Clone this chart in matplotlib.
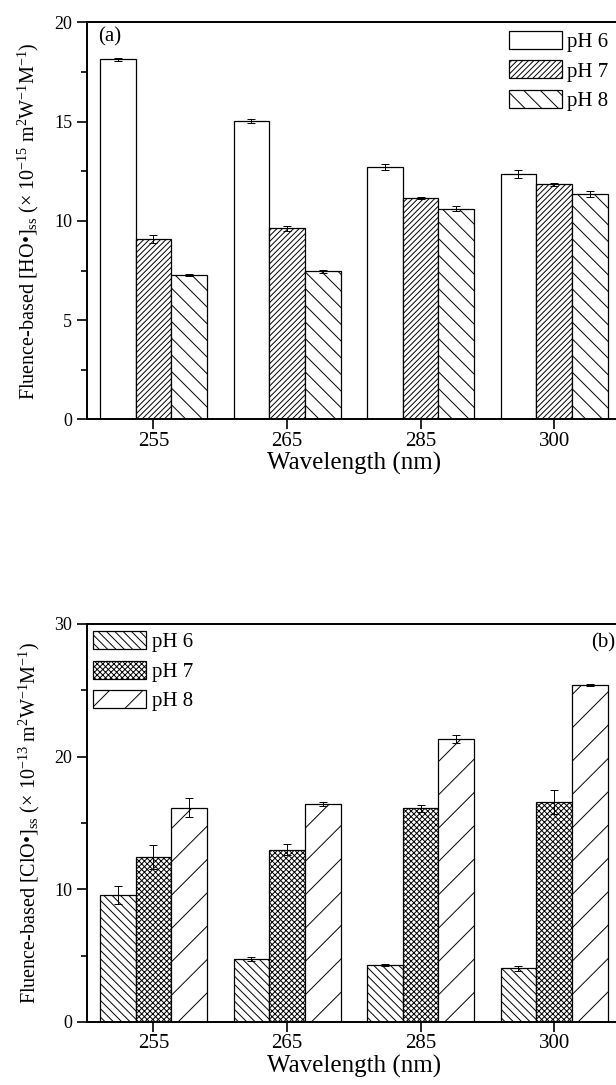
import numpy as np
import matplotlib
matplotlib.use("Agg")
import matplotlib.pyplot as plt

plt.rcParams['font.family'] = ['Liberation Serif', 'DejaVu Serif']
plt.rcParams['mathtext.fontset'] = 'custom'
plt.rcParams['mathtext.rm'] = 'Liberation Serif'
plt.rcParams['mathtext.it'] = 'Liberation Serif:italic'
plt.rcParams['hatch.linewidth'] = 0.7

# data
wavelengths = ['255', '265', '285', '300']
series = ['pH 6', 'pH 7', 'pH 8']

# (a) HO• (x 10^-15)
ho_vals = [
    [18.13, 15.02, 12.72, 12.34],   # pH 6
    [9.07, 9.62, 11.15, 11.84],     # pH 7
    [7.25, 7.45, 10.61, 11.35],     # pH 8
]
ho_err = [
    [0.08, 0.1, 0.15, 0.2],
    [0.2, 0.12, 0.03, 0.08],
    [0.05, 0.1, 0.12, 0.17],
]

# (b) ClO• (x 10^-13)
clo_vals = [
    [9.57, 4.72, 4.3, 4.03],
    [12.45, 13.0, 16.1, 16.58],
    [16.15, 16.42, 21.32, 25.42],
]
clo_err = [
    [0.7, 0.15, 0.06, 0.18],
    [0.9, 0.45, 0.25, 0.9],
    [0.7, 0.15, 0.3, 0.08],
]

fig = plt.figure(figsize=(6.16, 10.85), dpi=100)
ax_a = fig.add_axes([0.1407, 0.6134, 0.8673, 0.3661])
ax_b = fig.add_axes([0.1407, 0.0581, 0.8673, 0.3668])

x = np.arange(len(wavelengths))
w = 0.267


def draw(ax, vals, errs, hatches, ylim, major, ylabel):
    for i, (v, e) in enumerate(zip(vals, errs)):
        ax.bar(x + (i - 1) * w, v, w, yerr=e, color='white', edgecolor='black',
               linewidth=0.9, hatch=hatches[i], label=series[i],
               error_kw=dict(ecolor='black', elinewidth=0.7, capsize=3, capthick=0.7))
    ax.set_xlim(-0.5, 3.5)
    ax.set_ylim(*ylim)
    ax.set_yticks(np.arange(ylim[0], ylim[1] + 0.01, major))
    ax.set_yticks(np.arange(ylim[0], ylim[1], major / 2), minor=True)
    ax.set_xticks(x)
    ax.set_xticklabels(wavelengths)
    ax.tick_params(axis='y', which='major', direction='out', length=7, width=1.2, labelsize=13)
    ax.tick_params(axis='y', which='minor', direction='out', length=4, width=1.2)
    ax.tick_params(axis='x', direction='out', length=7, width=1.2, labelsize=15, pad=2)
    for s in ax.spines.values():
        s.set_linewidth(1.4)
    ax.set_xlabel('Wavelength (nm)', fontsize=18, labelpad=1)
    ax.set_ylabel(ylabel, fontsize=14.5, labelpad=9)


draw(ax_a, ho_vals, ho_err, ['', '//////', '\\\\'], (0, 20), 5,
     'Fluence-based [HO•]$_{\\mathrm{ss}}$ ($\\times$ 10$^{-15}$ m$^{2}$W$^{-1}$M$^{-1}$)')
draw(ax_b, clo_vals, clo_err, ['\\\\\\\\', 'xxxxxx', '/'], (0, 30), 10,
     'Fluence-based [ClO•]$_{\\mathrm{ss}}$ ($\\times$ 10$^{-13}$ m$^{2}$W$^{-1}$M$^{-1}$)')

ax_a.text(0.022, 0.963, '(a)', transform=ax_a.transAxes, fontsize=15, va='center')
ax_b.text(0.945, 0.952, '(b)', transform=ax_b.transAxes, fontsize=15, va='center')

leg_kw = dict(frameon=False, fontsize=15, handlelength=2.55, handleheight=0.95,
              borderpad=0, borderaxespad=0, labelspacing=0.4, handletextpad=0.25)
ax_a.legend(loc='upper left', bbox_to_anchor=(0.790, 0.978), **leg_kw)
ax_b.legend(loc='upper left', bbox_to_anchor=(0.0124, 0.982), **leg_kw)

fig.savefig('out.png', dpi=100)
